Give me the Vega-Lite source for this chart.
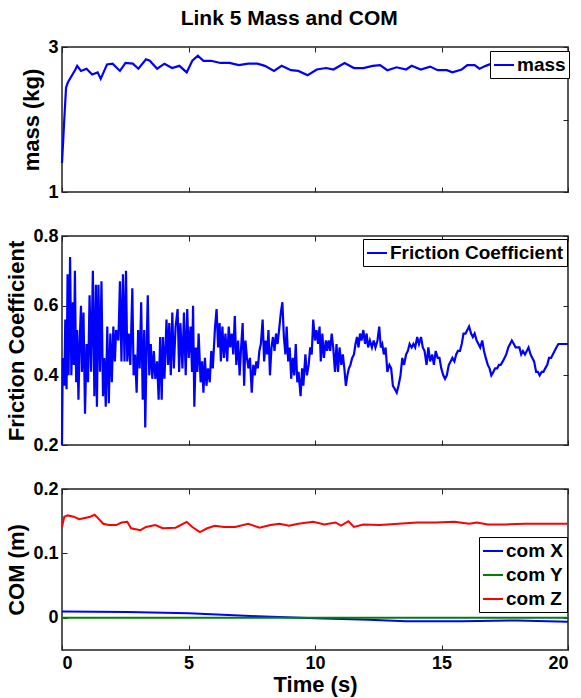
{
"$schema":"https://vega.github.io/schema/vega-lite/v6.json",
"padding":{"left":5,"top":8,"right":10,"bottom":2},
"title":{"text":"Link 5 Mass and COM","fontSize":21,"font":"Liberation Sans","fontWeight":"bold","color":"black","anchor":"middle","offset":8},
"datasets":{
"mass":[{"t":0,"v":1.4},{"t":0.09,"v":2.0},{"t":0.16,"v":2.44},{"t":0.23,"v":2.51},{"t":0.38,"v":2.6},{"t":0.53,"v":2.69},{"t":0.6,"v":2.74},{"t":0.75,"v":2.67},{"t":0.97,"v":2.7},{"t":1.19,"v":2.62},{"t":1.41,"v":2.65},{"t":1.53,"v":2.56},{"t":1.78,"v":2.76},{"t":2.0,"v":2.77},{"t":2.29,"v":2.67},{"t":2.51,"v":2.78},{"t":2.8,"v":2.77},{"t":3.02,"v":2.7},{"t":3.32,"v":2.83},{"t":3.47,"v":2.81},{"t":3.76,"v":2.7},{"t":4.05,"v":2.77},{"t":4.35,"v":2.71},{"t":4.64,"v":2.74},{"t":4.93,"v":2.65},{"t":5.15,"v":2.81},{"t":5.37,"v":2.88},{"t":5.59,"v":2.81},{"t":5.89,"v":2.81},{"t":6.26,"v":2.78},{"t":6.62,"v":2.78},{"t":6.99,"v":2.75},{"t":7.36,"v":2.77},{"t":7.72,"v":2.77},{"t":8.02,"v":2.74},{"t":8.38,"v":2.67},{"t":8.68,"v":2.74},{"t":9.05,"v":2.68},{"t":9.34,"v":2.67},{"t":9.71,"v":2.61},{"t":10.07,"v":2.69},{"t":10.44,"v":2.71},{"t":10.73,"v":2.69},{"t":11.17,"v":2.78},{"t":11.54,"v":2.71},{"t":11.91,"v":2.71},{"t":12.28,"v":2.74},{"t":12.57,"v":2.75},{"t":12.86,"v":2.68},{"t":13.23,"v":2.72},{"t":13.6,"v":2.69},{"t":13.82,"v":2.74},{"t":14.18,"v":2.69},{"t":14.55,"v":2.73},{"t":14.85,"v":2.68},{"t":15.21,"v":2.68},{"t":15.43,"v":2.65},{"t":15.8,"v":2.69},{"t":16.02,"v":2.75},{"t":16.31,"v":2.75},{"t":16.5,"v":2.7},{"t":16.75,"v":2.74},{"t":17.05,"v":2.78},{"t":17.5,"v":2.75},{"t":18,"v":2.78},{"t":18.5,"v":2.76},{"t":19,"v":2.77},{"t":19.5,"v":2.78},{"t":20,"v":2.77}],
"fric":[{"t":0,"v":0.2},{"t":0.03,"v":0.45},{"t":0.09,"v":0.37},{"t":0.13,"v":0.56},{"t":0.18,"v":0.36},{"t":0.22,"v":0.69},{"t":0.26,"v":0.4},{"t":0.32,"v":0.74},{"t":0.37,"v":0.4},{"t":0.43,"v":0.61},{"t":0.47,"v":0.43},{"t":0.51,"v":0.7},{"t":0.56,"v":0.38},{"t":0.6,"v":0.53},{"t":0.65,"v":0.33},{"t":0.7,"v":0.5},{"t":0.75,"v":0.6},{"t":0.79,"v":0.41},{"t":0.85,"v":0.58},{"t":0.91,"v":0.29},{"t":0.97,"v":0.49},{"t":1.03,"v":0.38},{"t":1.09,"v":0.63},{"t":1.15,"v":0.41},{"t":1.22,"v":0.7},{"t":1.28,"v":0.34},{"t":1.34,"v":0.66},{"t":1.38,"v":0.31},{"t":1.44,"v":0.66},{"t":1.5,"v":0.41},{"t":1.56,"v":0.67},{"t":1.62,"v":0.34},{"t":1.67,"v":0.45},{"t":1.73,"v":0.31},{"t":1.79,"v":0.54},{"t":1.85,"v":0.32},{"t":1.91,"v":0.52},{"t":1.97,"v":0.38},{"t":2.03,"v":0.54},{"t":2.09,"v":0.44},{"t":2.14,"v":0.53},{"t":2.23,"v":0.5},{"t":2.29,"v":0.67},{"t":2.35,"v":0.44},{"t":2.41,"v":0.69},{"t":2.47,"v":0.44},{"t":2.53,"v":0.7},{"t":2.58,"v":0.44},{"t":2.64,"v":0.52},{"t":2.7,"v":0.43},{"t":2.78,"v":0.65},{"t":2.83,"v":0.4},{"t":2.89,"v":0.46},{"t":2.95,"v":0.35},{"t":3.01,"v":0.53},{"t":3.07,"v":0.42},{"t":3.13,"v":0.61},{"t":3.19,"v":0.33},{"t":3.25,"v":0.53},{"t":3.29,"v":0.25},{"t":3.35,"v":0.5},{"t":3.39,"v":0.63},{"t":3.45,"v":0.4},{"t":3.51,"v":0.49},{"t":3.57,"v":0.39},{"t":3.63,"v":0.47},{"t":3.69,"v":0.39},{"t":3.76,"v":0.44},{"t":3.82,"v":0.33},{"t":3.88,"v":0.51},{"t":3.94,"v":0.33},{"t":3.99,"v":0.51},{"t":4.05,"v":0.39},{"t":4.13,"v":0.56},{"t":4.19,"v":0.43},{"t":4.24,"v":0.55},{"t":4.3,"v":0.4},{"t":4.36,"v":0.58},{"t":4.42,"v":0.42},{"t":4.49,"v":0.54},{"t":4.57,"v":0.59},{"t":4.63,"v":0.41},{"t":4.68,"v":0.55},{"t":4.76,"v":0.42},{"t":4.82,"v":0.58},{"t":4.89,"v":0.4},{"t":4.95,"v":0.59},{"t":5.01,"v":0.45},{"t":5.08,"v":0.54},{"t":5.14,"v":0.41},{"t":5.18,"v":0.6},{"t":5.23,"v":0.31},{"t":5.29,"v":0.48},{"t":5.35,"v":0.41},{"t":5.4,"v":0.52},{"t":5.48,"v":0.38},{"t":5.54,"v":0.44},{"t":5.59,"v":0.35},{"t":5.65,"v":0.45},{"t":5.71,"v":0.37},{"t":5.77,"v":0.42},{"t":5.84,"v":0.38},{"t":5.9,"v":0.47},{"t":5.96,"v":0.42},{"t":6.05,"v":0.54},{"t":6.11,"v":0.59},{"t":6.17,"v":0.48},{"t":6.23,"v":0.55},{"t":6.28,"v":0.44},{"t":6.34,"v":0.54},{"t":6.4,"v":0.45},{"t":6.46,"v":0.52},{"t":6.53,"v":0.44},{"t":6.59,"v":0.54},{"t":6.65,"v":0.48},{"t":6.71,"v":0.52},{"t":6.77,"v":0.46},{"t":6.83,"v":0.57},{"t":6.89,"v":0.43},{"t":6.96,"v":0.5},{"t":7.02,"v":0.4},{"t":7.08,"v":0.48},{"t":7.14,"v":0.55},{"t":7.2,"v":0.37},{"t":7.25,"v":0.5},{"t":7.31,"v":0.45},{"t":7.37,"v":0.42},{"t":7.43,"v":0.45},{"t":7.5,"v":0.35},{"t":7.56,"v":0.43},{"t":7.62,"v":0.4},{"t":7.68,"v":0.44},{"t":7.74,"v":0.42},{"t":7.8,"v":0.47},{"t":7.86,"v":0.49},{"t":7.93,"v":0.56},{"t":7.99,"v":0.44},{"t":8.05,"v":0.5},{"t":8.11,"v":0.46},{"t":8.16,"v":0.53},{"t":8.22,"v":0.4},{"t":8.28,"v":0.48},{"t":8.34,"v":0.51},{"t":8.4,"v":0.47},{"t":8.46,"v":0.52},{"t":8.52,"v":0.49},{"t":8.58,"v":0.53},{"t":8.65,"v":0.58},{"t":8.71,"v":0.61},{"t":8.77,"v":0.51},{"t":8.83,"v":0.46},{"t":8.88,"v":0.54},{"t":8.94,"v":0.44},{"t":9.0,"v":0.48},{"t":9.06,"v":0.39},{"t":9.12,"v":0.45},{"t":9.18,"v":0.4},{"t":9.24,"v":0.49},{"t":9.3,"v":0.38},{"t":9.35,"v":0.41},{"t":9.43,"v":0.34},{"t":9.49,"v":0.42},{"t":9.54,"v":0.37},{"t":9.62,"v":0.46},{"t":9.68,"v":0.4},{"t":9.75,"v":0.43},{"t":9.81,"v":0.48},{"t":9.87,"v":0.46},{"t":9.93,"v":0.56},{"t":10.0,"v":0.5},{"t":10.06,"v":0.53},{"t":10.12,"v":0.49},{"t":10.18,"v":0.54},{"t":10.23,"v":0.44},{"t":10.29,"v":0.52},{"t":10.35,"v":0.45},{"t":10.43,"v":0.5},{"t":10.48,"v":0.47},{"t":10.54,"v":0.5},{"t":10.6,"v":0.47},{"t":10.66,"v":0.52},{"t":10.72,"v":0.48},{"t":10.79,"v":0.41},{"t":10.85,"v":0.49},{"t":10.91,"v":0.41},{"t":10.97,"v":0.48},{"t":11.04,"v":0.43},{"t":11.1,"v":0.46},{"t":11.16,"v":0.42},{"t":11.22,"v":0.37},{"t":11.28,"v":0.4},{"t":11.34,"v":0.42},{"t":11.4,"v":0.43},{"t":11.47,"v":0.45},{"t":11.54,"v":0.46},{"t":11.6,"v":0.49},{"t":11.66,"v":0.51},{"t":11.72,"v":0.48},{"t":11.78,"v":0.52},{"t":11.84,"v":0.5},{"t":11.91,"v":0.53},{"t":11.98,"v":0.49},{"t":12.04,"v":0.52},{"t":12.1,"v":0.48},{"t":12.17,"v":0.5},{"t":12.25,"v":0.48},{"t":12.32,"v":0.5},{"t":12.39,"v":0.48},{"t":12.47,"v":0.5},{"t":12.54,"v":0.54},{"t":12.6,"v":0.48},{"t":12.66,"v":0.49},{"t":12.72,"v":0.46},{"t":12.79,"v":0.48},{"t":12.86,"v":0.41},{"t":12.94,"v":0.43},{"t":13.01,"v":0.42},{"t":13.08,"v":0.37},{"t":13.16,"v":0.36},{"t":13.23,"v":0.35},{"t":13.3,"v":0.37},{"t":13.38,"v":0.4},{"t":13.45,"v":0.45},{"t":13.52,"v":0.43},{"t":13.6,"v":0.46},{"t":13.67,"v":0.47},{"t":13.74,"v":0.49},{"t":13.82,"v":0.48},{"t":13.89,"v":0.49},{"t":13.96,"v":0.48},{"t":14.04,"v":0.51},{"t":14.11,"v":0.49},{"t":14.19,"v":0.51},{"t":14.26,"v":0.48},{"t":14.33,"v":0.47},{"t":14.41,"v":0.43},{"t":14.48,"v":0.48},{"t":14.55,"v":0.44},{"t":14.63,"v":0.46},{"t":14.7,"v":0.43},{"t":14.77,"v":0.47},{"t":14.85,"v":0.45},{"t":14.92,"v":0.45},{"t":14.99,"v":0.42},{"t":15.07,"v":0.4},{"t":15.14,"v":0.39},{"t":15.21,"v":0.4},{"t":15.29,"v":0.43},{"t":15.36,"v":0.44},{"t":15.43,"v":0.45},{"t":15.51,"v":0.44},{"t":15.58,"v":0.46},{"t":15.65,"v":0.47},{"t":15.73,"v":0.47},{"t":15.8,"v":0.49},{"t":15.87,"v":0.52},{"t":15.95,"v":0.52},{"t":16.02,"v":0.53},{"t":16.09,"v":0.54},{"t":16.17,"v":0.52},{"t":16.24,"v":0.51},{"t":16.31,"v":0.52},{"t":16.39,"v":0.5},{"t":16.46,"v":0.49},{"t":16.53,"v":0.48},{"t":16.61,"v":0.5},{"t":16.68,"v":0.47},{"t":16.75,"v":0.45},{"t":16.83,"v":0.43},{"t":16.9,"v":0.42},{"t":16.97,"v":0.4},{"t":17.05,"v":0.41},{"t":17.12,"v":0.42},{"t":17.2,"v":0.42},{"t":17.27,"v":0.43},{"t":17.34,"v":0.43},{"t":17.42,"v":0.44},{"t":17.49,"v":0.45},{"t":17.56,"v":0.46},{"t":17.64,"v":0.48},{"t":17.71,"v":0.49},{"t":17.78,"v":0.5},{"t":17.86,"v":0.49},{"t":17.93,"v":0.48},{"t":18.0,"v":0.48},{"t":18.08,"v":0.48},{"t":18.15,"v":0.46},{"t":18.22,"v":0.47},{"t":18.3,"v":0.46},{"t":18.37,"v":0.47},{"t":18.44,"v":0.48},{"t":18.52,"v":0.46},{"t":18.59,"v":0.45},{"t":18.66,"v":0.44},{"t":18.74,"v":0.41},{"t":18.81,"v":0.41},{"t":18.88,"v":0.4},{"t":18.96,"v":0.41},{"t":19.03,"v":0.41},{"t":19.1,"v":0.42},{"t":19.18,"v":0.43},{"t":19.25,"v":0.45},{"t":19.33,"v":0.45},{"t":19.4,"v":0.46},{"t":19.47,"v":0.47},{"t":19.54,"v":0.48},{"t":19.62,"v":0.49},{"t":19.69,"v":0.49},{"t":19.76,"v":0.49},{"t":19.84,"v":0.49},{"t":19.91,"v":0.49},{"t":20,"v":0.49}],
"com":[{"s":"com X","t":0,"v":0.0098},{"s":"com X","t":2.58,"v":0.009},{"s":"com X","t":5.01,"v":0.007},{"s":"com X","t":7.72,"v":0.0025},{"s":"com X","t":10.0,"v":-0.0006},{"s":"com X","t":12.13,"v":-0.003},{"s":"com X","t":13.6,"v":-0.0053},{"s":"com X","t":15.8,"v":-0.0053},{"s":"com X","t":18.0,"v":-0.004},{"s":"com X","t":20,"v":-0.006},
{"s":"com Y","t":0,"v":0},{"s":"com Y","t":20,"v":0},
{"s":"com Z","t":0,"v":0.141},{"s":"com Z","t":0.09,"v":0.157},{"s":"com Z","t":0.23,"v":0.159},{"s":"com Z","t":0.46,"v":0.157},{"s":"com Z","t":0.68,"v":0.153},{"s":"com Z","t":0.9,"v":0.155},{"s":"com Z","t":1.12,"v":0.157},{"s":"com Z","t":1.29,"v":0.16},{"s":"com Z","t":1.44,"v":0.154},{"s":"com Z","t":1.63,"v":0.146},{"s":"com Z","t":1.85,"v":0.144},{"s":"com Z","t":2.14,"v":0.144},{"s":"com Z","t":2.36,"v":0.148},{"s":"com Z","t":2.58,"v":0.149},{"s":"com Z","t":2.73,"v":0.139},{"s":"com Z","t":3.1,"v":0.136},{"s":"com Z","t":3.32,"v":0.141},{"s":"com Z","t":3.69,"v":0.144},{"s":"com Z","t":3.98,"v":0.139},{"s":"com Z","t":4.49,"v":0.14},{"s":"com Z","t":4.93,"v":0.149},{"s":"com Z","t":5.15,"v":0.141},{"s":"com Z","t":5.45,"v":0.133},{"s":"com Z","t":5.74,"v":0.139},{"s":"com Z","t":6.04,"v":0.143},{"s":"com Z","t":6.4,"v":0.141},{"s":"com Z","t":6.84,"v":0.141},{"s":"com Z","t":7.36,"v":0.146},{"s":"com Z","t":7.8,"v":0.14},{"s":"com Z","t":8.24,"v":0.144},{"s":"com Z","t":8.6,"v":0.146},{"s":"com Z","t":8.97,"v":0.143},{"s":"com Z","t":9.34,"v":0.146},{"s":"com Z","t":9.93,"v":0.149},{"s":"com Z","t":10.37,"v":0.145},{"s":"com Z","t":10.81,"v":0.148},{"s":"com Z","t":11.03,"v":0.143},{"s":"com Z","t":11.32,"v":0.15},{"s":"com Z","t":11.54,"v":0.141},{"s":"com Z","t":11.91,"v":0.145},{"s":"com Z","t":12.57,"v":0.144},{"s":"com Z","t":13.3,"v":0.146},{"s":"com Z","t":14.04,"v":0.148},{"s":"com Z","t":14.77,"v":0.148},{"s":"com Z","t":15.51,"v":0.149},{"s":"com Z","t":16.09,"v":0.146},{"s":"com Z","t":16.39,"v":0.148},{"s":"com Z","t":16.83,"v":0.145},{"s":"com Z","t":17.56,"v":0.145},{"s":"com Z","t":18.3,"v":0.146},{"s":"com Z","t":19.18,"v":0.146},{"s":"com Z","t":20,"v":0.146}]
},
"spacing":24,
"resolve":{"scale":{"color":"independent"},"legend":{"color":"independent"}},
"vconcat":[
{"width":506,"height":145,"data":{"name":"mass"},
 "layer":[
  {"mark":{"type":"line","strokeWidth":2.2},
   "encoding":{
    "x":{"field":"t","type":"quantitative","scale":{"domain":[0,20],"nice":false},"axis":{"values":[0,5,10,15,20],"labels":false,"title":null}},
    "y":{"field":"v","type":"quantitative","scale":{"domain":[1,3],"nice":false},"axis":{"values":[1,2,3],"format":"d","title":"mass (kg)"}},
    "color":{"datum":"mass","scale":{"domain":["mass"],"range":["#0000ff"]},"legend":{"title":null,"legendX":428,"legendY":4}}}},
  {"mark":{"type":"line","opacity":0},
   "encoding":{
    "x":{"field":"t","type":"quantitative","axis":{"orient":"top","values":[0,5,10,15,20],"labels":false,"title":null}},
    "y":{"field":"v","type":"quantitative","axis":{"orient":"right","values":[1,2,3],"labels":false,"title":null}}}}
 ],
 "resolve":{"axis":{"x":"independent","y":"independent"}}},
{"width":506,"height":209,"data":{"name":"fric"},
 "layer":[
  {"mark":{"type":"line","strokeWidth":2.2},
   "encoding":{
    "x":{"field":"t","type":"quantitative","scale":{"domain":[0,20],"nice":false},"axis":{"values":[0,5,10,15,20],"labels":false,"title":null}},
    "y":{"field":"v","type":"quantitative","scale":{"domain":[0.2,0.8],"nice":false},"axis":{"values":[0.2,0.4,0.6,0.8],"format":".1f","title":"Friction Coefficient"}},
    "color":{"datum":"Friction Coefficient","scale":{"domain":["Friction Coefficient"],"range":["#0000ff"]},"legend":{"title":null,"legendX":301,"legendY":3}}}},
  {"mark":{"type":"line","opacity":0},
   "encoding":{
    "x":{"field":"t","type":"quantitative","axis":{"orient":"top","values":[0,5,10,15,20],"labels":false,"title":null}},
    "y":{"field":"v","type":"quantitative","axis":{"orient":"right","values":[0.2,0.4,0.6,0.8],"labels":false,"title":null}}}}
 ],
 "resolve":{"axis":{"x":"independent","y":"independent"}}},
{"width":506,"height":161,"data":{"name":"com"},
 "layer":[
  {"mark":{"type":"line","strokeWidth":2},
   "encoding":{
    "x":{"field":"t","type":"quantitative","scale":{"domain":[0,20],"nice":false},"axis":{"values":[0,5,10,15,20],"title":"Time (s)","titlePadding":2}},
    "y":{"field":"v","type":"quantitative","scale":{"domain":[-0.05,0.2],"nice":false},"axis":{"values":[0,0.1,0.2],"format":"~g","title":"COM (m)"}},
    "color":{"field":"s","type":"nominal","scale":{"domain":["com X","com Y","com Z"],"range":["#0000ff","#008000","#ff0000"]},"legend":{"title":null,"legendX":417,"legendY":48}}}},
  {"mark":{"type":"line","opacity":0},
   "encoding":{
    "x":{"field":"t","type":"quantitative","axis":{"orient":"top","values":[0,5,10,15,20],"labels":false,"title":null}},
    "y":{"field":"v","type":"quantitative","axis":{"orient":"right","values":[0,0.1,0.2],"labels":false,"title":null}},
    "detail":{"field":"s"}}}
 ],
 "resolve":{"axis":{"x":"independent","y":"independent"}}}
],
"config":{
 "font":"Liberation Sans",
 "view":{"stroke":"#222222","strokeWidth":1.5},
 "axis":{"labelFont":"Liberation Sans","labelFontSize":18,"labelFontWeight":"bold","labelColor":"black","titleFont":"Liberation Sans","titleFontSize":22,"titleFontWeight":"bold","titleColor":"black","grid":false,"domain":false,"tickColor":"#222222","tickSize":-5,"labelPadding":9,"tickWidth":1,"titlePadding":4},
 "legend":{"orient":"none","labelFont":"Liberation Sans","labelFontSize":19,"labelFontWeight":"bold","labelColor":"black","labelLimit":400,"symbolType":"stroke","symbolStrokeWidth":2,"symbolSize":400,"strokeColor":"black","fillColor":"white","padding":3,"rowPadding":3,"labelOffset":2,"cornerRadius":0}
}
}
